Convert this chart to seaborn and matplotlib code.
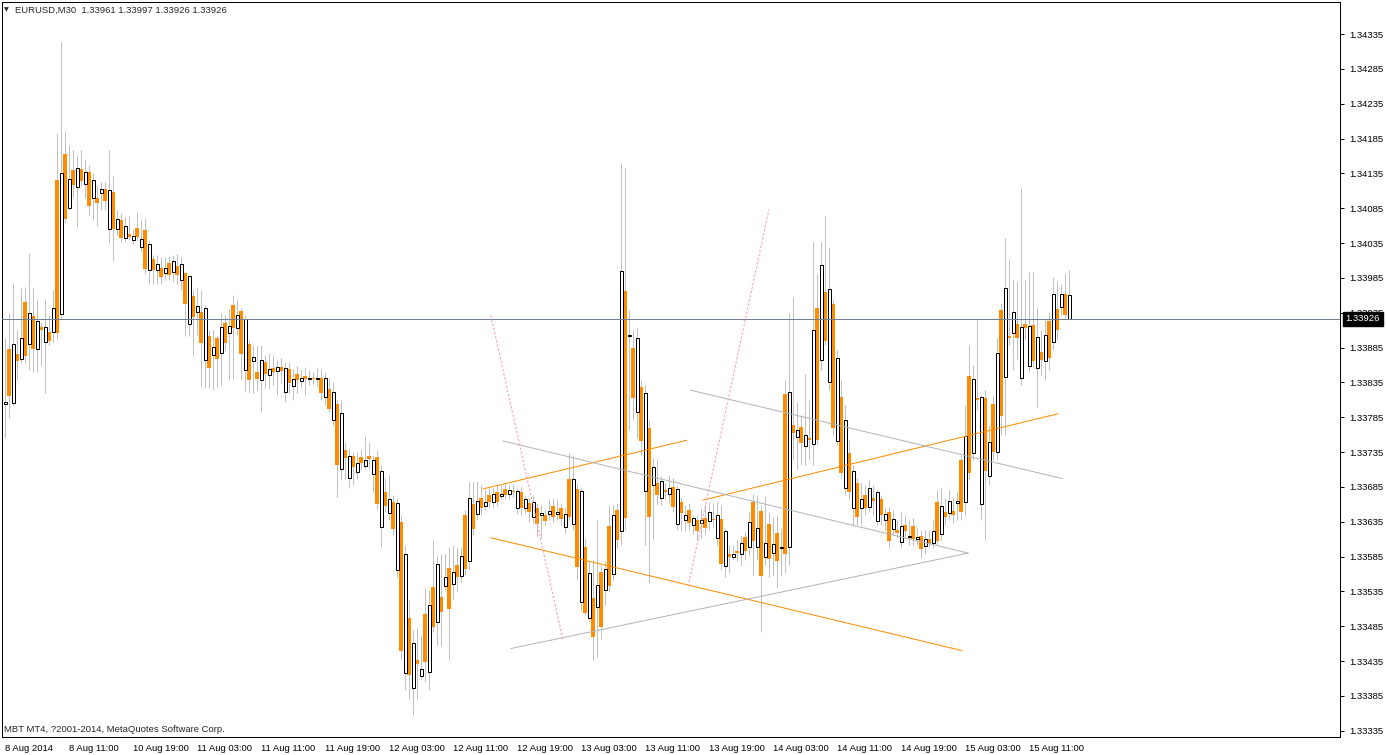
import numpy as np
import matplotlib
matplotlib.use("Agg")
import matplotlib.pyplot as plt
import matplotlib.transforms as mtransforms
import seaborn as sns

# EURUSD M30, one entry per bar slot (left to right)
body_top = [
    1.33807, 1.33883, 1.33890, 1.33876, 1.33898, 1.33951, 1.33935, 1.33931, 1.33923, 1.33915,
    1.33915, 1.33908, 1.33942, 1.34126, 1.34136, 1.34163, 1.34127, 1.34140, 1.34143, 1.34141,
    1.34137, 1.34137, 1.34126, 1.34100, 1.34113, 1.34113, 1.34111, 1.34108, 1.34070, 1.34068,
    1.34060, 1.34048, 1.34045, 1.34057, 1.34041, 1.34054, 1.34034, 1.34012, 1.34005, 1.33999,
    1.33999, 1.34007, 1.34009, 1.34002, 1.34005, 1.33992, 1.33988, 1.33959, 1.33945, 1.33936,
    1.33942, 1.33902, 1.33886, 1.33899, 1.33915, 1.33920, 1.33916, 1.33946, 1.33932, 1.33938,
    1.33926, 1.33890, 1.33872, 1.33850, 1.33867, 1.33864, 1.33854, 1.33856, 1.33857, 1.33857,
    1.33856, 1.33854, 1.33840, 1.33847, 1.33842, 1.33844, 1.33842, 1.33842, 1.33842, 1.33842,
    1.33842, 1.33826, 1.33821, 1.33804, 1.33791, 1.33738, 1.33730, 1.33730, 1.33720, 1.33728,
    1.33723, 1.33730, 1.33723, 1.33728, 1.33708, 1.33678, 1.33668, 1.33664, 1.33662, 1.33635,
    1.33589, 1.33497, 1.33461, 1.33436, 1.33423, 1.33503, 1.33516, 1.33542, 1.33575, 1.33527,
    1.33555, 1.33569, 1.33563, 1.33573, 1.33586, 1.33644, 1.33669, 1.33661, 1.33665, 1.33669,
    1.33664, 1.33674, 1.33675, 1.33677, 1.33675, 1.33682, 1.33681, 1.33679, 1.33679, 1.33677,
    1.33668, 1.33662, 1.33664, 1.33654, 1.33648, 1.33644, 1.33651, 1.33658, 1.33649, 1.33654,
    1.33646, 1.33697, 1.33697, 1.33682, 1.33679, 1.33599, 1.33562, 1.33526, 1.33544, 1.33563,
    1.33567, 1.33629, 1.33644, 1.33652, 1.33995, 1.33966, 1.33903, 1.33885, 1.33899, 1.33829,
    1.33820, 1.33770, 1.33714, 1.33690, 1.33694, 1.33681, 1.33684, 1.33685, 1.33682, 1.33664,
    1.33644, 1.33652, 1.33641, 1.33638, 1.33638, 1.33641, 1.33649, 1.33639, 1.33645, 1.33639,
    1.33621, 1.33588, 1.33588, 1.33593, 1.33605, 1.33613, 1.33635, 1.33664, 1.33626, 1.33651,
    1.33605, 1.33632, 1.33603, 1.33619, 1.33599, 1.33819, 1.33821, 1.33774, 1.33766, 1.33771,
    1.33760, 1.33755, 1.33910, 1.33942, 1.34004, 1.33965, 1.33969, 1.33948, 1.33870, 1.33814,
    1.33781, 1.33733, 1.33708, 1.33691, 1.33667, 1.33674, 1.33684, 1.33669, 1.33677, 1.33667,
    1.33646, 1.33649, 1.33639, 1.33623, 1.33629, 1.33631, 1.33615, 1.33629, 1.33613, 1.33615,
    1.33610, 1.33610, 1.33622, 1.33664, 1.33658, 1.33649, 1.33665, 1.33651, 1.33665, 1.33723,
    1.33758, 1.33844, 1.33840, 1.33813, 1.33814, 1.33813, 1.33750, 1.33804, 1.33877, 1.33939,
    1.33971, 1.33902, 1.33936, 1.33919, 1.33915, 1.33919, 1.33916, 1.33918, 1.33900, 1.33879,
    1.33903, 1.33923, 1.33962, 1.33941, 1.33962, 1.33962, 1.33961,
]
body_bottom = [
    1.33804, 1.33816, 1.33806, 1.33866, 1.33869, 1.33873, 1.33890, 1.33883, 1.33883, 1.33910,
    1.33893, 1.33895, 1.33908, 1.33906, 1.33933, 1.34070, 1.34086, 1.34119, 1.34116, 1.34124,
    1.34120, 1.34088, 1.34100, 1.34093, 1.34107, 1.34096, 1.34055, 1.34055, 1.34055, 1.34042,
    1.34042, 1.34044, 1.34040, 1.34044, 1.34030, 1.33998, 1.33997, 1.33997, 1.33997, 1.33986,
    1.33992, 1.33989, 1.33994, 1.33989, 1.33982, 1.33948, 1.33919, 1.33929, 1.33936, 1.33892,
    1.33867, 1.33856, 1.33875, 1.33869, 1.33877, 1.33892, 1.33906, 1.33913, 1.33913, 1.33876,
    1.33853, 1.33839, 1.33866, 1.33840, 1.33839, 1.33847, 1.33846, 1.33850, 1.33852, 1.33852,
    1.33821, 1.33834, 1.33830, 1.33839, 1.33837, 1.33840, 1.33840, 1.33840, 1.33840, 1.33820,
    1.33814, 1.33797, 1.33781, 1.33717, 1.33711, 1.33727, 1.33698, 1.33714, 1.33707, 1.33720,
    1.33715, 1.33725, 1.33704, 1.33661, 1.33628, 1.33658, 1.33648, 1.33625, 1.33565, 1.33450,
    1.33418, 1.33415, 1.33397, 1.33431, 1.33413, 1.33433, 1.33420, 1.33484, 1.33491, 1.33506,
    1.33543, 1.33510, 1.33546, 1.33556, 1.33557, 1.33567, 1.33578, 1.33625, 1.33646, 1.33654,
    1.33658, 1.33664, 1.33664, 1.33664, 1.33672, 1.33674, 1.33675, 1.33677, 1.33654, 1.33655,
    1.33655, 1.33649, 1.33642, 1.33632, 1.33644, 1.33636, 1.33646, 1.33642, 1.33646, 1.33639,
    1.33628, 1.33642, 1.33632, 1.33570, 1.33520, 1.33504, 1.33497, 1.33470, 1.33513, 1.33484,
    1.33537, 1.33543, 1.33560, 1.33609, 1.33622, 1.33641, 1.33902, 1.33813, 1.33793, 1.33751,
    1.33679, 1.33642, 1.33687, 1.33674, 1.33669, 1.33677, 1.33675, 1.33656, 1.33632, 1.33648,
    1.33638, 1.33633, 1.33631, 1.33622, 1.33633, 1.33626, 1.33636, 1.33638, 1.33612, 1.33575,
    1.33572, 1.33585, 1.33585, 1.33590, 1.33588, 1.33593, 1.33599, 1.33608, 1.33599, 1.33557,
    1.33585, 1.33582, 1.33590, 1.33578, 1.33598, 1.33588, 1.33599, 1.33763, 1.33757, 1.33748,
    1.33743, 1.33753, 1.33747, 1.33753, 1.33867, 1.33895, 1.33836, 1.33770, 1.33751, 1.33705,
    1.33684, 1.33677, 1.33654, 1.33642, 1.33654, 1.33655, 1.33656, 1.33665, 1.33636, 1.33644,
    1.33638, 1.33608, 1.33625, 1.33619, 1.33606, 1.33622, 1.33613, 1.33610, 1.33610, 1.33596,
    1.33600, 1.33603, 1.33605, 1.33608, 1.33618, 1.33642, 1.33648, 1.33644, 1.33662, 1.33649,
    1.33664, 1.33705, 1.33734, 1.33810, 1.33661, 1.33708, 1.33700, 1.33735, 1.33735, 1.33787,
    1.33843, 1.33898, 1.33906, 1.33899, 1.33842, 1.33913, 1.33859, 1.33866, 1.33856, 1.33867,
    1.33866, 1.33870, 1.33893, 1.33910, 1.33943, 1.33932, 1.33926,
]
bar_high = [
    1.33899, 1.33935, 1.33978, 1.33910, 1.33971, 1.33972, 1.34021, 1.33971, 1.33955, 1.33922,
    1.33954, 1.33932, 1.33968, 1.34193, 1.34324, 1.34196, 1.34176, 1.34169, 1.34162, 1.34169,
    1.34154, 1.34147, 1.34136, 1.34117, 1.34123, 1.34123, 1.34169, 1.34131, 1.34083, 1.34078,
    1.34073, 1.34074, 1.34055, 1.34080, 1.34070, 1.34071, 1.34040, 1.34018, 1.34018, 1.34015,
    1.34015, 1.34017, 1.34018, 1.34019, 1.34015, 1.33994, 1.33989, 1.33968, 1.33971, 1.33968,
    1.33946, 1.33910, 1.33910, 1.33903, 1.33935, 1.33932, 1.33941, 1.33961, 1.33955, 1.33942,
    1.33932, 1.33896, 1.33889, 1.33887, 1.33889, 1.33875, 1.33877, 1.33875, 1.33867, 1.33870,
    1.33864, 1.33864, 1.33854, 1.33859, 1.33853, 1.33857, 1.33853, 1.33850, 1.33856, 1.33854,
    1.33850, 1.33842, 1.33836, 1.33810, 1.33810, 1.33750, 1.33741, 1.33735, 1.33735, 1.33738,
    1.33758, 1.33750, 1.33731, 1.33738, 1.33717, 1.33698, 1.33702, 1.33674, 1.33669, 1.33645,
    1.33602, 1.33523, 1.33480, 1.33483, 1.33473, 1.33540, 1.33537, 1.33609, 1.33586, 1.33588,
    1.33588, 1.33599, 1.33602, 1.33598, 1.33598, 1.33652, 1.33692, 1.33692, 1.33694, 1.33688,
    1.33681, 1.33684, 1.33684, 1.33687, 1.33687, 1.33690, 1.33688, 1.33688, 1.33684, 1.33685,
    1.33674, 1.33669, 1.33674, 1.33662, 1.33659, 1.33652, 1.33667, 1.33669, 1.33667, 1.33662,
    1.33655, 1.33734, 1.33731, 1.33690, 1.33684, 1.33612, 1.33578, 1.33580, 1.33638, 1.33573,
    1.33578, 1.33659, 1.33659, 1.33662, 1.34150, 1.34143, 1.33939, 1.33910, 1.33913, 1.33839,
    1.33831, 1.33781, 1.33727, 1.33725, 1.33701, 1.33690, 1.33702, 1.33698, 1.33687, 1.33671,
    1.33659, 1.33662, 1.33645, 1.33645, 1.33655, 1.33659, 1.33664, 1.33662, 1.33664, 1.33659,
    1.33626, 1.33602, 1.33602, 1.33609, 1.33616, 1.33621, 1.33649, 1.33675, 1.33674, 1.33659,
    1.33672, 1.33649, 1.33642, 1.33645, 1.33626, 1.33839, 1.33935, 1.33958, 1.33807, 1.33788,
    1.33847, 1.33810, 1.34037, 1.33992, 1.34037, 1.34074, 1.34028, 1.33954, 1.33882, 1.33839,
    1.33803, 1.33753, 1.33717, 1.33698, 1.33692, 1.33688, 1.33695, 1.33688, 1.33681, 1.33674,
    1.33655, 1.33656, 1.33652, 1.33638, 1.33649, 1.33645, 1.33638, 1.33641, 1.33626, 1.33623,
    1.33623, 1.33623, 1.33638, 1.33681, 1.33684, 1.33667, 1.33681, 1.33669, 1.33678, 1.33731,
    1.33803, 1.33889, 1.33860, 1.33925, 1.33817, 1.33824, 1.33774, 1.33817, 1.33899, 1.33949,
    1.34042, 1.34012, 1.33982, 1.33979, 1.34114, 1.33982, 1.33994, 1.33994, 1.33942, 1.33910,
    1.33925, 1.33936, 1.33986, 1.33981, 1.33976, 1.33991, 1.33997,
]
bar_low = [
    1.33755, 1.33784, 1.33803, 1.33839, 1.33863, 1.33863, 1.33853, 1.33850, 1.33850, 1.33860,
    1.33820, 1.33889, 1.33893, 1.33896, 1.33925, 1.34065, 1.34083, 1.34101, 1.34058, 1.34119,
    1.34100, 1.34075, 1.34068, 1.34060, 1.34083, 1.34083, 1.34035, 1.34009, 1.34047, 1.34037,
    1.34037, 1.34040, 1.34034, 1.34038, 1.34024, 1.33991, 1.33976, 1.33976, 1.33976, 1.33976,
    1.33982, 1.33982, 1.33979, 1.33976, 1.33968, 1.33902, 1.33902, 1.33873, 1.33903, 1.33830,
    1.33827, 1.33827, 1.33824, 1.33829, 1.33831, 1.33882, 1.33839, 1.33840, 1.33903, 1.33839,
    1.33821, 1.33820, 1.33820, 1.33824, 1.33793, 1.33827, 1.33826, 1.33831, 1.33817, 1.33834,
    1.33807, 1.33820, 1.33810, 1.33820, 1.33827, 1.33817, 1.33831, 1.33833, 1.33830, 1.33810,
    1.33803, 1.33793, 1.33774, 1.33671, 1.33695, 1.33697, 1.33684, 1.33688, 1.33697, 1.33710,
    1.33710, 1.33710, 1.33677, 1.33652, 1.33599, 1.33649, 1.33638, 1.33616, 1.33555, 1.33437,
    1.33394, 1.33380, 1.33357, 1.33380, 1.33408, 1.33405, 1.33394, 1.33477, 1.33458, 1.33457,
    1.33537, 1.33436, 1.33523, 1.33535, 1.33549, 1.33559, 1.33566, 1.33616, 1.33638, 1.33645,
    1.33652, 1.33655, 1.33655, 1.33658, 1.33667, 1.33667, 1.33667, 1.33671, 1.33646, 1.33645,
    1.33648, 1.33635, 1.33633, 1.33613, 1.33612, 1.33631, 1.33638, 1.33635, 1.33638, 1.33631,
    1.33619, 1.33638, 1.33623, 1.33552, 1.33509, 1.33501, 1.33491, 1.33437, 1.33441, 1.33466,
    1.33516, 1.33535, 1.33552, 1.33598, 1.33602, 1.33623, 1.33767, 1.33781, 1.33755, 1.33731,
    1.33602, 1.33547, 1.33609, 1.33659, 1.33659, 1.33667, 1.33662, 1.33649, 1.33623, 1.33621,
    1.33621, 1.33623, 1.33618, 1.33609, 1.33612, 1.33616, 1.33623, 1.33626, 1.33602, 1.33566,
    1.33555, 1.33562, 1.33580, 1.33578, 1.33573, 1.33580, 1.33586, 1.33559, 1.33580, 1.33477,
    1.33573, 1.33555, 1.33559, 1.33540, 1.33559, 1.33562, 1.33573, 1.33724, 1.33710, 1.33717,
    1.33717, 1.33724, 1.33717, 1.33745, 1.33853, 1.33889, 1.33824, 1.33760, 1.33745, 1.33698,
    1.33674, 1.33667, 1.33631, 1.33631, 1.33631, 1.33645, 1.33649, 1.33645, 1.33631, 1.33631,
    1.33623, 1.33598, 1.33616, 1.33612, 1.33598, 1.33612, 1.33602, 1.33602, 1.33602, 1.33583,
    1.33588, 1.33598, 1.33598, 1.33602, 1.33609, 1.33631, 1.33638, 1.33633, 1.33638, 1.33638,
    1.33645, 1.33695, 1.33724, 1.33796, 1.33638, 1.33609, 1.33688, 1.33724, 1.33724, 1.33760,
    1.33760, 1.33889, 1.33853, 1.33867, 1.33831, 1.33896, 1.33850, 1.33856, 1.33799, 1.33846,
    1.33839, 1.33853, 1.33882, 1.33896, 1.33932, 1.33925, 1.33926,
]

time_labels = [
    "8 Aug 2014", "8 Aug 11:00", "10 Aug 19:00", "11 Aug 03:00", "11 Aug 11:00",
    "11 Aug 19:00", "12 Aug 03:00", "12 Aug 11:00", "12 Aug 19:00", "13 Aug 03:00",
    "13 Aug 11:00", "13 Aug 19:00", "14 Aug 03:00", "14 Aug 11:00", "14 Aug 19:00",
    "15 Aug 03:00", "15 Aug 11:00",
]
price_ticks = [
    1.33335, 1.33385, 1.33435, 1.33485, 1.33535, 1.33585, 1.33635, 1.33685, 1.33735,
    1.33785, 1.33835, 1.33885, 1.33935, 1.33985, 1.34035, 1.34085, 1.34135, 1.34185,
    1.34235, 1.34285, 1.34335,
]
last_price = 1.33926
header = "EURUSD,M30  1.33961 1.33997 1.33926 1.33926"
footer = "MBT MT4, ?2001-2014, MetaQuotes Software Corp."

# drawn objects: anchor bar / price at both ends
trend_bar_a = [119.4, 121.4, 174.4, 124.4, 126.4, 171.2, 121.4, 170.7]
trend_price_a = [1.33682, 1.33612, 1.33666, 1.33751, 1.33453, 1.33824, 1.33931, 1.33542]
trend_bar_b = [170.4, 239.2, 263.2, 240.7, 240.7, 264.2, 139.4, 190.9]
trend_price_b = [1.33752, 1.33450, 1.33790, 1.33590, 1.33590, 1.33697, 1.33466, 1.34083]
trend_kind = ["orange", "orange", "orange", "grey", "grey", "grey", "pink", "pink"]

sns.set_style("white")
plt.rcParams["font.family"] = ["Liberation Sans", "DejaVu Sans"]
FS = 6.8
PX = 0.72

W, H = 1387, 755
fig = plt.figure(figsize=(W / 100, H / 100), dpi=100)
ax = fig.add_axes([2 / W, 18 / H, 1338 / W, 735 / H])

top = np.array(body_top)
bot = np.array(body_bottom)
bars = np.arange(len(top))
hollow = bars % 2 == 0

ax.vlines(bars, bar_low, bar_high, color="#c0c0c0", lw=PX, zorder=1)
ax.bar(bars[~hollow], (top - bot)[~hollow], bottom=bot[~hollow], width=1.0,
       color="#ff8c00", lw=0, zorder=2)
ax.bar(bars[hollow], (top - bot)[hollow], bottom=bot[hollow], width=0.75,
       facecolor="white", edgecolor="black", lw=PX, zorder=3)

styles = {
    "orange": dict(color="#ff8c00", linestyle="-", lw=PX),
    "grey": dict(color="#b4b4b4", linestyle="-", lw=PX),
    "pink": dict(color="#ffa0b4", linestyle=(0, (2.2, 1.6)), lw=0.8),
}
for i, kind in enumerate(trend_kind):
    sns.lineplot(x=[trend_bar_a[i], trend_bar_b[i]],
                 y=[trend_price_a[i], trend_price_b[i]],
                 ax=ax, zorder=5, **styles[kind])

ax.axhline(last_price, color="#708090", lw=PX, zorder=6)

ax.set_xlim(-0.825, 333.675)
ax.set_ylim(1.33326, 1.34381)

ax.yaxis.tick_right()
ax.set_yticks(price_ticks)
ax.set_yticklabels([f"{p:.5f}" for p in price_ticks])
ax.set_xticks(np.arange(len(time_labels)) * 16)
ax.set_xticklabels(time_labels, ha="left")
shift = mtransforms.ScaledTranslation(-3 / 100, 0, fig.dpi_scale_trans)
for lab in ax.get_xticklabels():
    lab.set_transform(lab.get_transform() + shift)
ax.tick_params(axis="y", direction="out", length=3, width=PX, pad=4,
               labelsize=FS, colors="black")
ax.tick_params(axis="x", direction="out", length=3, width=PX, pad=2,
               labelsize=FS, colors="black")
ax.set_xlabel("")
ax.set_ylabel("")
for sp in ax.spines.values():
    sp.set_visible(True)
    sp.set_color("black")
    sp.set_linewidth(PX)

trans = mtransforms.blended_transform_factory(ax.transAxes, ax.transData)
ax.text(1.004, last_price, f"{last_price:.5f}", transform=trans, ha="left",
        va="center", color="white", fontsize=FS, clip_on=False, zorder=10,
        bbox=dict(boxstyle="square,pad=0.3", fc="black", ec="black"))

fig.text(4 / W, 1 - 10 / H, "\u25bc", fontsize=4.5, va="center", family="DejaVu Sans")
fig.text(15 / W, 1 - 10 / H, header, fontsize=FS, va="center")
fig.text(4 / W, 1 - 729 / H, footer, fontsize=FS, va="center")

fig.savefig("out.png", dpi=100, facecolor="white")
